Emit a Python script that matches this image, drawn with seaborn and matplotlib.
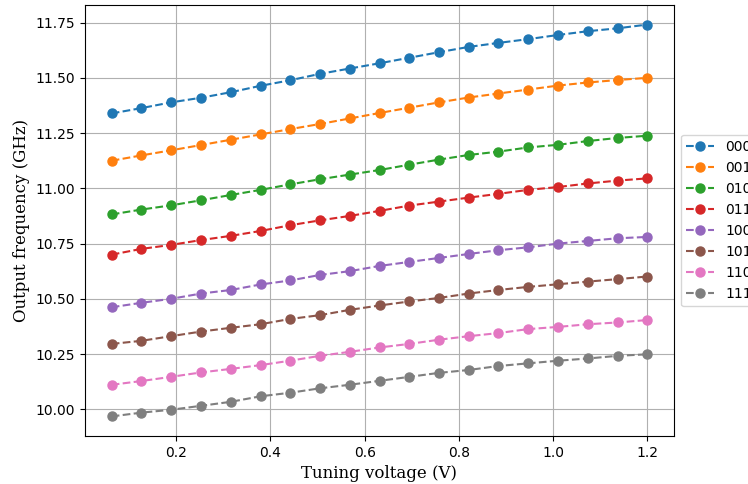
import matplotlib
matplotlib.use("Agg")
import matplotlib.pyplot as plt
import seaborn as sns
import pandas as pd

# tuning voltage (V)
voltage = [0.063, 0.126, 0.189, 0.253, 0.316, 0.379, 0.442, 0.505, 0.568, 0.632,
           0.695, 0.758, 0.821, 0.884, 0.947, 1.011, 1.074, 1.137, 1.200]

# output frequency (GHz) per control word
f_000 = [11.339, 11.363, 11.389, 11.410, 11.435, 11.464, 11.489, 11.518, 11.542, 11.566,
         11.591, 11.616, 11.640, 11.658, 11.675, 11.694, 11.711, 11.724, 11.741]
f_001 = [11.125, 11.149, 11.172, 11.196, 11.220, 11.244, 11.268, 11.291, 11.316, 11.341,
         11.365, 11.389, 11.411, 11.429, 11.447, 11.465, 11.479, 11.490, 11.500]
f_010 = [10.882, 10.904, 10.923, 10.946, 10.970, 10.993, 11.018, 11.041, 11.062, 11.083,
         11.107, 11.130, 11.151, 11.166, 11.185, 11.197, 11.214, 11.228, 11.238]
f_011 = [10.700, 10.726, 10.744, 10.766, 10.785, 10.807, 10.833, 10.855, 10.875, 10.898,
         10.922, 10.940, 10.958, 10.975, 10.993, 11.006, 11.022, 11.035, 11.045]
f_100 = [10.462, 10.482, 10.500, 10.524, 10.540, 10.565, 10.583, 10.608, 10.625, 10.649,
         10.667, 10.685, 10.703, 10.720, 10.733, 10.750, 10.762, 10.774, 10.780]
f_101 = [10.296, 10.310, 10.331, 10.352, 10.369, 10.385, 10.409, 10.426, 10.450, 10.470,
         10.488, 10.504, 10.524, 10.540, 10.554, 10.566, 10.578, 10.589, 10.601]
f_110 = [10.111, 10.128, 10.147, 10.167, 10.183, 10.200, 10.220, 10.242, 10.260, 10.280,
         10.296, 10.315, 10.331, 10.345, 10.363, 10.373, 10.385, 10.393, 10.404]
f_111 = [9.968, 9.985, 9.998, 10.016, 10.034, 10.059, 10.075, 10.095, 10.111, 10.129,
         10.147, 10.165, 10.178, 10.196, 10.208, 10.220, 10.230, 10.242, 10.249]

codes = ["000", "001", "010", "011", "100", "101", "110", "111"]
series = [f_000, f_001, f_010, f_011, f_100, f_101, f_110, f_111]

fig = plt.figure(figsize=(7.48, 4.84), dpi=100)
ax = fig.add_axes([0.1136, 0.0992, 0.7874, 0.8905])

colors = sns.color_palette("tab10", 8)
for code, vals, c in zip(codes, series, colors):
    df = pd.DataFrame({"V": voltage, "f": vals})
    sns.lineplot(data=df, x="V", y="f", ax=ax, label=code, color=c,
                 linestyle="--", marker="o", markersize=6.5,
                 markeredgecolor=c, markeredgewidth=1)

ax.grid(True, color="#b0b0b0", linewidth=0.8)
ax.set_axisbelow(True)
ax.set_xlabel("Tuning voltage (V)", family="DejaVu Serif", fontsize=12)
ax.set_ylabel("Output frequency (GHz)", family="DejaVu Serif", fontsize=12)
ax.legend(loc="center left", bbox_to_anchor=(1.0, 0.5))

fig.savefig("out.png", dpi=100)
